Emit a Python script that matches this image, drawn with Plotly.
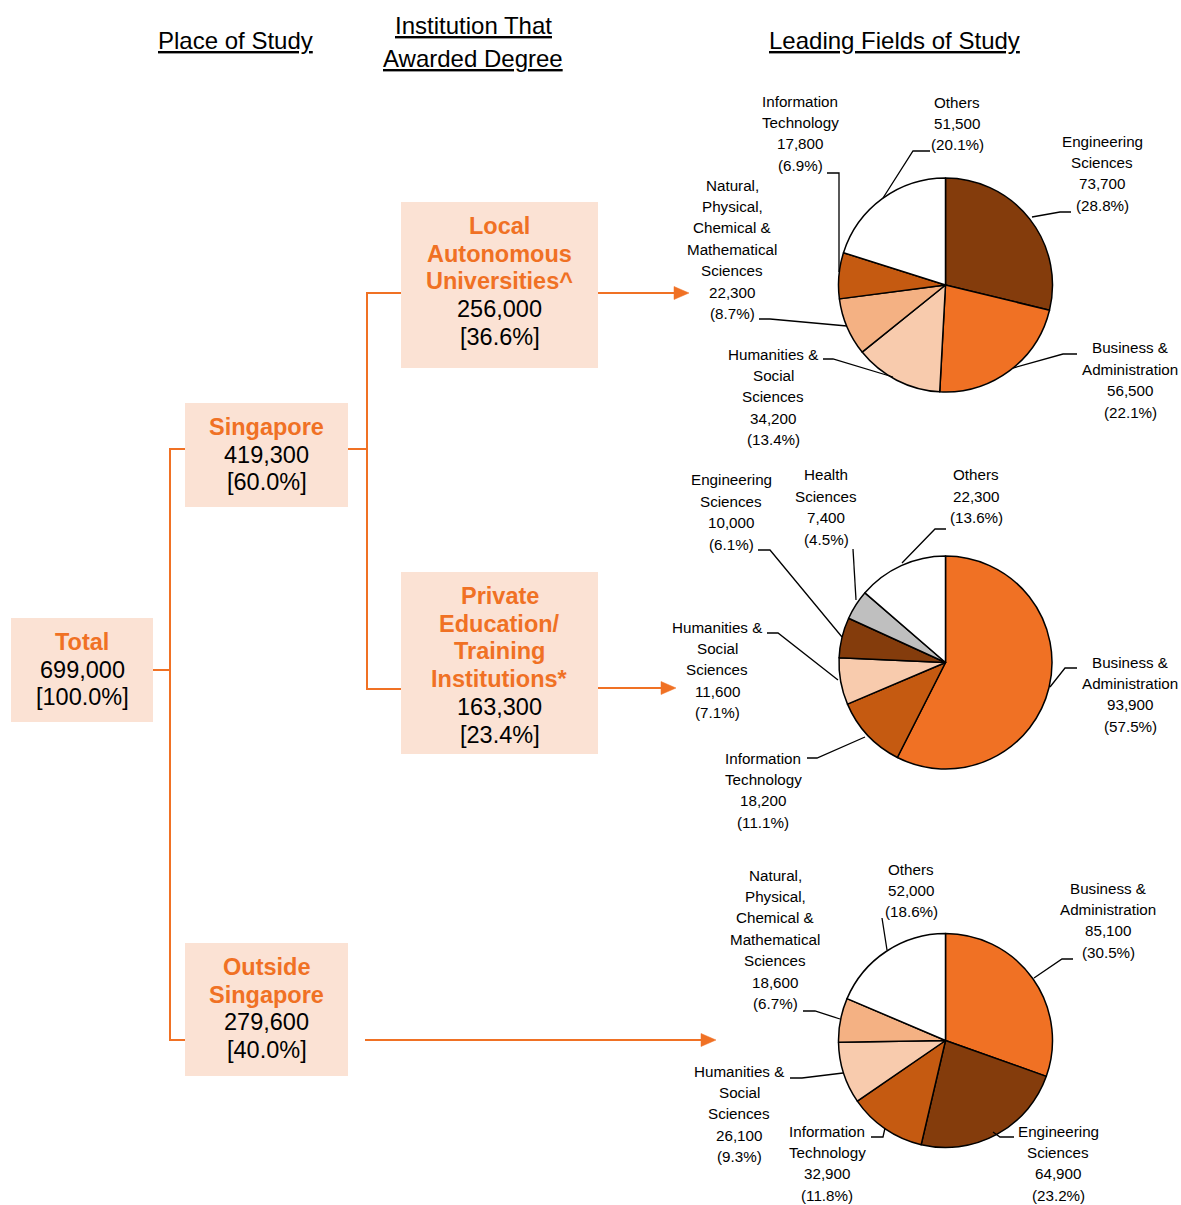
import plotly.graph_objects as go

W, H = 1181, 1205

# ---------------- data ----------------
tree_names = ["Total", "Singapore", "Outside Singapore",
              "Local Autonomous Universities^",
              "Private Education/ Training Institutions*"]
tree_values = [699000, 419300, 279600, 256000, 163300]
tree_pcts = [100.0, 60.0, 40.0, 36.6, 23.4]

headers = ["Place of Study", "Institution That Awarded Degree", "Leading Fields of Study"]

lau_fields = ["Engineering Sciences", "Business & Administration",
              "Humanities & Social Sciences",
              "Natural, Physical, Chemical & Mathematical Sciences",
              "Information Technology", "Others"]
lau_values = [73700, 56500, 34200, 22300, 17800, 51500]
lau_pcts = [28.8, 22.1, 13.4, 8.7, 6.9, 20.1]

pet_fields = ["Business & Administration", "Information Technology",
              "Humanities & Social Sciences", "Engineering Sciences",
              "Health Sciences", "Others"]
pet_values = [93900, 18200, 11600, 10000, 7400, 22300]
pet_pcts = [57.5, 11.1, 7.1, 6.1, 4.5, 13.6]

out_fields = ["Business & Administration", "Engineering Sciences",
              "Information Technology", "Humanities & Social Sciences",
              "Natural, Physical, Chemical & Mathematical Sciences", "Others"]
out_values = [85100, 64900, 32900, 26100, 18600, 52000]
out_pcts = [30.5, 23.2, 11.8, 9.3, 6.7, 18.6]

# ---------------- styles ----------------
ORANGE = "#F07124"
BOXFILL = "#FBE2D4"
field_colors = {
    "Business & Administration": "#F07124",
    "Engineering Sciences": "#843C0C",
    "Information Technology": "#C55A11",
    "Humanities & Social Sciences": "#F8CBAD",
    "Natural, Physical, Chemical & Mathematical Sciences": "#F4B183",
    "Health Sciences": "#BFBFBF",
    "Others": "#FFFFFF",
}
field_lines = {
    "Business & Administration": ["Business &", "Administration"],
    "Engineering Sciences": ["Engineering", "Sciences"],
    "Information Technology": ["Information", "Technology"],
    "Humanities & Social Sciences": ["Humanities &", "Social", "Sciences"],
    "Natural, Physical, Chemical & Mathematical Sciences":
        ["Natural,", "Physical,", "Chemical &", "Mathematical", "Sciences"],
    "Health Sciences": ["Health", "Sciences"],
    "Others": ["Others"],
}
MAIN_FONT = "Liberation Sans, Arial, sans-serif"
LABEL_FONT = "Liberation Sans Narrow, Arial Narrow, Liberation Sans, Arial, sans-serif"

def px(x):
    return x / W

def py(y):
    return 1 - y / H

fig = go.Figure()

def text(x, y, s, size, color="black", family=MAIN_FONT):
    fig.add_annotation(x=px(x), y=py(y), xref="paper", yref="paper", text=s,
                       showarrow=False, xanchor="center", yanchor="middle",
                       font=dict(size=size, color=color, family=family))

def path(points, color="black", width=1.3):
    d = "M " + " L ".join(f"{px(a)} {py(b)}" for a, b in points)
    fig.add_shape(type="path", path=d, xref="paper", yref="paper",
                  line=dict(color=color, width=width))

# ---------------- headers ----------------
header_layout = [(235, [41]), (473, [25, 58]), (894, [41])]
header_lines = [["Place of Study"], ["Institution That", "Awarded Degree"],
                ["Leading Fields of Study"]]
for (hx, ys), lines in zip(header_layout, header_lines):
    for yy, ln in zip(ys, lines):
        text(hx, yy, f"<u>{ln}</u>", 24)

# ---------------- tree boxes ----------------
box_layout = [
    dict(rect=(11, 618, 153, 722), title=["Total"], y0=642),
    dict(rect=(185, 403, 348, 507), title=["Singapore"], y0=427),
    dict(rect=(185, 943, 348, 1076), title=["Outside", "Singapore"], y0=967),
    dict(rect=(401, 202, 598, 368), title=["Local", "Autonomous", "Universities^"], y0=226),
    dict(rect=(401, 572, 598, 754), title=["Private", "Education/", "Training", "Institutions*"], y0=596),
]
BOX_STEP = 27.7
for bl, val, pct in zip(box_layout, tree_values, tree_pcts):
    x0, y0, x1, y1 = bl["rect"]
    fig.add_shape(type="rect", x0=px(x0), x1=px(x1), y0=py(y1), y1=py(y0),
                  xref="paper", yref="paper", fillcolor=BOXFILL, line=dict(width=0),
                  layer="below")
    cx = (x0 + x1) / 2
    lines = [(f"<b>{t}</b>", ORANGE) for t in bl["title"]]
    lines += [(f"{val:,}", "black"), (f"[{pct:.1f}%]", "black")]
    for i, (s, c) in enumerate(lines):
        text(cx, bl["y0"] + i * BOX_STEP, s, 23.5, c)

# connectors
LW = 2
path([(153, 670), (170, 670)], ORANGE, LW)
path([(185, 449), (170, 449), (170, 1040), (185, 1040)], ORANGE, LW)
path([(348, 449), (367, 449)], ORANGE, LW)
path([(401, 293), (367, 293), (367, 689), (401, 689)], ORANGE, LW)

def arrow(x0, x1, y):
    path([(x0, y), (x1 - 12, y)], ORANGE, LW)
    d = f"M {px(x1)} {py(y)} L {px(x1-15)} {py(y-6.5)} L {px(x1-15)} {py(y+6.5)} Z"
    fig.add_shape(type="path", path=d, xref="paper", yref="paper",
                  fillcolor=ORANGE, line=dict(color=ORANGE, width=0.5))

arrow(598, 689, 293)
arrow(598, 676, 688)
arrow(365, 716, 1040)

# ---------------- pies ----------------
pies = [
    dict(fields=lau_fields, values=lau_values, pcts=lau_pcts, c=(945.5, 285), r=107,
         labels=[(1102, 141, [(1071, 212), (1060, 212), (1032, 217)]),
                 (1130, 348, [(1077, 354), (1063, 354), (1013, 368)]),
                 (773, 354, [(823, 359), (833, 359), (893, 377)]),
                 (732, 185, [(759, 319), (770, 319), (847, 326)]),
                 (800, 101, [(827, 173), (839, 173), (839, 272)]),
                 (957, 102, [(930, 151), (913, 151), (883, 198)])]),
    dict(fields=pet_fields, values=pet_values, pcts=pet_pcts, c=(945.5, 662.5), r=106.5,
         labels=[(1130, 662, [(1077, 668), (1065, 668), (1050, 687)]),
                 (763, 758, [(807, 758), (817, 758), (865, 737)]),
                 (717, 627, [(767, 633), (778, 633), (838, 680)]),
                 (731, 480, [(758, 550), (770, 550), (842, 637)]),
                 (826, 475, [(853, 549), (856, 600)]),
                 (976, 475, [(946, 529), (935, 529), (902, 563)])]),
    dict(fields=out_fields, values=out_values, pcts=out_pcts, c=(945.5, 1040.5), r=107,
         labels=[(1108, 888, [(1073, 959), (1062, 959), (1034, 978)]),
                 (1058, 1131, [(1014, 1137), (1000, 1137), (993, 1132)]),
                 (827, 1131, [(871, 1137), (883, 1137), (885, 1128)]),
                 (739, 1071, [(790, 1078), (802, 1078), (843, 1073)]),
                 (775, 875, [(803, 1011), (815, 1011), (840, 1019)]),
                 (911, 869, [(882, 918), (887, 950)])]),
]
LBL_STEP = 21.4
for p in pies:
    cx, cy = p["c"]
    r = p["r"]
    fig.add_trace(go.Pie(
        labels=p["fields"], values=p["values"], sort=False, direction="clockwise",
        rotation=0, textinfo="none", textposition="none", hoverinfo="label+value",
        marker=dict(colors=[field_colors[f] for f in p["fields"]],
                    line=dict(color="black", width=1.5)),
        domain=dict(x=[px(cx - r), px(cx + r)], y=[py(cy + r), py(cy - r)]),
        showlegend=False))
    for f, v, pc, (lx, ly, leader) in zip(p["fields"], p["values"], p["pcts"], p["labels"]):
        lines = field_lines[f] + [f"{v:,}", f"({pc:.1f}%)"]
        for i, s in enumerate(lines):
            text(lx, ly + i * LBL_STEP, s, 15.2, "black", LABEL_FONT)
        path(leader, "black", 1.3)

fig.update_layout(width=W, height=H, margin=dict(l=0, r=0, t=0, b=0),
                  paper_bgcolor="white", plot_bgcolor="white", showlegend=False)
fig.write_html("out.html", config={"displayModeBar": False},
               post_script="document.body.style.margin='0';document.body.style.overflow='hidden';")
